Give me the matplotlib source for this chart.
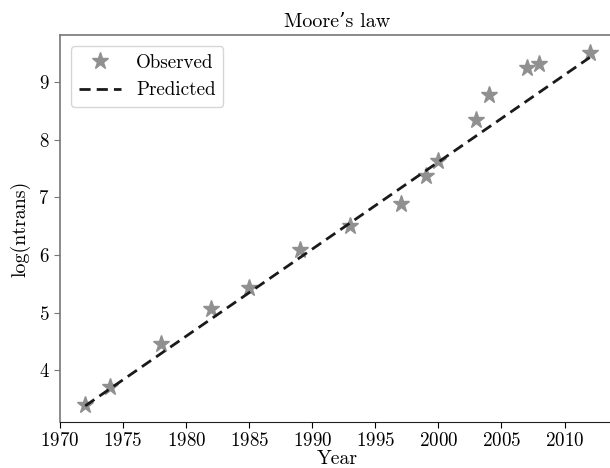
import matplotlib
matplotlib.use("Agg")
import matplotlib.pyplot as plt

plt.rcParams['font.family'] = ['cmr10', 'DejaVu Serif']
plt.rcParams['mathtext.fontset'] = 'cm'
plt.rcParams['axes.formatter.use_mathtext'] = True

years = [1972, 1974, 1978, 1982, 1985, 1989, 1993, 1997, 1999, 2000,
         2003, 2004, 2007, 2008, 2012]
log_ntrans = [3.40, 3.71, 4.46, 5.07, 5.43, 6.08, 6.50, 6.88, 7.38, 7.63,
              8.34, 8.77, 9.24, 9.31, 9.50]
pred_years = [1972, 2012]
pred_values = [3.38, 9.43]

fig = plt.figure(figsize=(6.10, 4.68), dpi=100)
ax = fig.add_axes([60/610, 46/468, 555/610, 387/468])

ax.plot(years, log_ntrans, linestyle='none', marker='*', markersize=12.5,
        color='#909090', label='Observed')
ax.plot(pred_years, pred_values, linestyle='--', dashes=(4, 2.2), color='#1a1a1a',
        linewidth=2.0, label='Predicted')

ax.set_xlim(1970, 2014)
ax.set_ylim(3.10, 9.82)
ax.set_xticks([1970, 1975, 1980, 1985, 1990, 1995, 2000, 2005, 2010])
ax.set_yticks([4, 5, 6, 7, 8, 9])

ax.tick_params(labelsize=13.7, direction='out', length=4, pad=3.5)
ax.tick_params(axis='y', color='#777777')
ax.set_xlabel('Year', fontsize=14.2, labelpad=-0.5)
ax.set_ylabel('log(ntrans)', fontsize=14.4, labelpad=6)
ax.set_title('Moore\u2019s law', fontsize=14.5, pad=6)

ax.spines['right'].set_visible(False)
ax.spines['top'].set_color('#777777')
ax.spines['left'].set_color('#777777')
ax.spines['top'].set_linewidth(1.2)
ax.spines['left'].set_linewidth(1.2)
ax.spines['bottom'].set_color('#222222')

leg = ax.legend(loc='upper left', fontsize=13.7, frameon=True, fancybox=True,
                handlelength=2.2, borderaxespad=0.6)
leg.get_frame().set_edgecolor('#cccccc')

fig.savefig('out.png', dpi=100)
